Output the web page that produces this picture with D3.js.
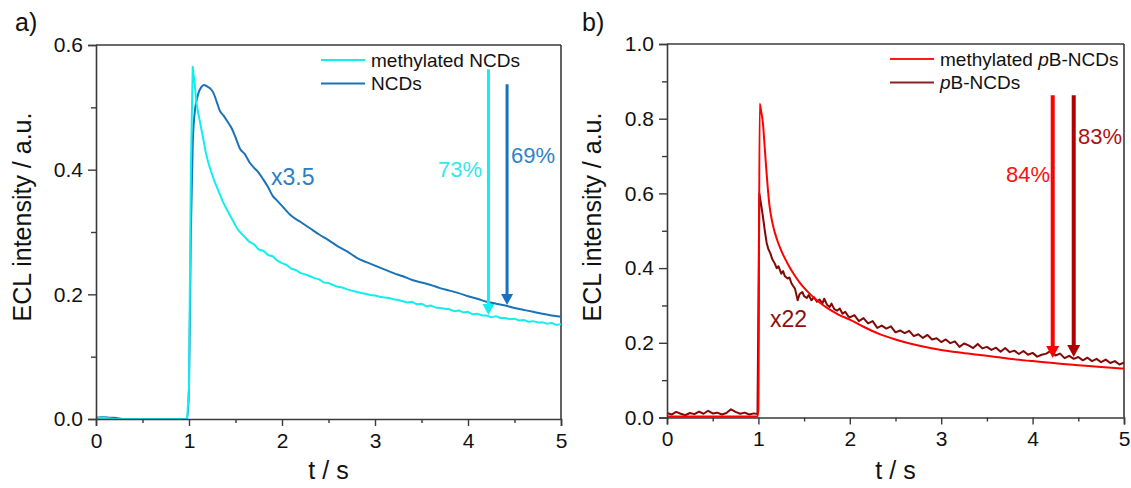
<!DOCTYPE html>
<html>
<head>
<meta charset="utf-8">
<script src="https://cdn.jsdelivr.net/npm/d3@7/dist/d3.min.js"></script>
<style>
  html, body { margin: 0; padding: 0; background: #ffffff; }
  svg { display: block; }
  text { font-family: "Liberation Sans", Arial, sans-serif; }
</style>
</head>
<body>
<svg id="chart" width="1131" height="488"></svg>
<script>
// ---------- DATA ----------
// Panel a) methylated NCDs (cyan)
const tMethylNCD = [0,0.05,0.1,0.15,0.2,0.3,0.5,0.7,0.9,0.98,1.0,1.02,1.04,1.06,1.08,1.10,1.12,1.15,1.18,1.21,1.24,1.27,1.30,1.33,1.36,1.40,1.44,1.48,1.52,1.56,1.60,1.65,1.70,1.75,1.80,1.85,1.90,1.95,2.00,
  2.05,2.10,2.15,2.20,2.25,2.30,2.35,2.40,2.45,2.50,2.55,2.60,2.65,2.70,2.75,2.80,2.85,2.90,2.95,3.00,
  3.05,3.10,3.15,3.20,3.25,3.30,3.35,3.40,3.45,3.50,3.55,3.60,3.65,3.70,3.75,3.80,3.85,3.90,3.95,4.00,
  4.05,4.10,4.15,4.20,4.25,4.30,4.35,4.40,4.45,4.50,4.55,4.60,4.65,4.70,4.75,4.80,4.85,4.90,4.95,5.00];
const methylNCD = [0.001,0.002,0.002,0.001,0.000,0.000,0.000,0.000,0.000,0.000,0.05,0.40,0.565,0.54,0.507,0.49,0.475,0.452,0.428,0.41,0.396,0.383,0.372,0.361,0.35,0.338,0.327,0.316,0.305,0.298,0.292,0.284,0.280,0.272,0.270,0.263,0.261,0.254,0.250,
  0.247,0.241,0.239,0.234,0.232,0.229,0.226,0.224,0.219,0.218,0.215,0.212,0.211,0.208,0.206,0.204,0.202,0.201,0.199,0.198,
  0.196,0.195,0.194,0.192,0.191,0.189,0.187,0.188,0.184,0.185,0.181,0.182,0.179,0.178,0.177,0.176,0.173,0.174,0.171,0.172,
  0.168,0.169,0.166,0.166,0.163,0.165,0.162,0.162,0.160,0.161,0.158,0.159,0.156,0.157,0.155,0.155,0.153,0.154,0.151,0.152];

// Panel a) NCDs (blue, x3.5)
const tNCD = [0,0.05,0.1,0.15,0.2,0.25,0.3,0.5,0.7,0.9,0.98,1.0,1.02,1.04,1.06,1.08,1.10,1.13,1.16,1.20,1.23,1.26,1.30,1.33,1.37,1.41,1.46,1.50,1.55,1.60,1.65,1.70,1.75,1.80,1.85,1.90,1.95,2.0,
  2.1,2.2,2.3,2.4,2.5,2.6,2.7,2.8,2.9,3.0,3.1,3.2,3.3,3.4,3.5,3.6,3.7,3.8,3.9,4.0,4.1,4.2,4.3,4.4,4.5,4.6,4.7,4.8,4.9,5.0];
const NCD = [0.002,0.003,0.003,0.002,0.002,0.001,0.000,0.000,0.000,0.000,0.000,0.05,0.30,0.44,0.49,0.51,0.522,0.532,0.536,0.533,0.53,0.524,0.508,0.495,0.487,0.478,0.466,0.452,0.433,0.425,0.412,0.403,0.395,0.384,0.372,0.358,0.350,0.342,
  0.326,0.316,0.306,0.296,0.287,0.277,0.269,0.259,0.252,0.246,0.240,0.234,0.229,0.223,0.219,0.215,0.210,0.206,0.202,0.197,0.193,0.188,0.185,0.182,0.178,0.175,0.172,0.169,0.166,0.164];

// Panel b) methylated pB-NCDs (red)
const tMethylPB = [0,0.5,0.99,1.0,1.014,1.03,1.05,1.07,1.09,1.12,1.15,1.18,1.21,1.25,1.29,1.34,1.39,1.45,1.50,1.58,1.67,1.76,1.88,2.0,2.15,2.32,2.5,2.75,3.0,3.2,3.4,3.6,3.8,4.0,4.13,4.3,4.5,4.75,5.0];
const methylPB = [0.003,0.003,0.003,0.02,0.84,0.82,0.787,0.72,0.653,0.57,0.525,0.495,0.472,0.447,0.426,0.403,0.383,0.362,0.347,0.327,0.308,0.292,0.275,0.262,0.243,0.224,0.209,0.193,0.181,0.174,0.168,0.162,0.156,0.151,0.148,0.144,0.140,0.135,0.131];

// Panel b) pB-NCDs (dark red, x22)
const tPB = [0,0.05,0.1,0.15,0.2,0.25,0.3,0.35,0.4,0.45,0.5,0.55,0.6,0.65,0.7,0.75,0.8,0.85,0.9,0.95,0.99,
  1.00,1.01,1.03,1.05,1.07,1.09,1.11,1.13,1.15,1.18,1.20,1.22,1.25,1.27,1.29,1.32,1.34,1.36,1.38,1.40,1.43,1.45,1.48,1.50,1.53,1.55,1.58,1.61,1.64,1.67,1.70,1.72,1.75,1.78,1.80,1.83,1.86,1.89,1.92,1.95,1.98,2.00,
  2.05,2.10,2.15,2.20,2.25,2.30,2.35,2.40,2.45,2.50,2.55,2.60,2.65,2.70,2.75,2.80,2.85,2.90,2.95,3.00,
  3.05,3.10,3.15,3.20,3.25,3.30,3.35,3.40,3.45,3.50,3.55,3.60,3.65,3.70,3.75,3.80,3.85,3.90,3.95,4.00,
  4.05,4.10,4.15,4.20,4.25,4.30,4.35,4.40,4.45,4.50,4.55,4.60,4.65,4.70,4.75,4.80,4.85,4.90,4.95,5.00];
const PB = [0.012,0.008,0.015,0.010,0.006,0.012,0.009,0.016,0.010,0.018,0.011,0.013,0.008,0.012,0.022,0.015,0.010,0.013,0.008,0.011,0.009,
  0.30,0.60,0.57,0.537,0.50,0.468,0.45,0.44,0.425,0.412,0.40,0.405,0.385,0.392,0.378,0.372,0.375,0.36,0.352,0.345,0.314,0.33,0.336,0.325,0.32,0.328,0.314,0.322,0.31,0.316,0.305,0.318,0.302,0.296,0.305,0.29,0.286,0.292,0.278,0.283,0.272,0.268,
  0.274,0.258,0.266,0.252,0.258,0.240,0.246,0.238,0.244,0.228,0.233,0.226,0.232,0.218,0.223,0.213,0.221,0.209,0.212,0.202,
  0.209,0.199,0.204,0.189,0.198,0.193,0.186,0.197,0.185,0.189,0.181,0.187,0.176,0.186,0.175,0.179,0.170,0.178,0.168,0.173,
  0.163,0.168,0.171,0.179,0.166,0.171,0.159,0.165,0.157,0.162,0.153,0.160,0.151,0.157,0.148,0.155,0.146,0.151,0.142,0.147];

// Tick labels
const xTicks = [0,1,2,3,4,5];
const xMinor = [0.5,1.5,2.5,3.5,4.5];
const yTicksA = [0.0,0.2,0.4,0.6];
const yMinorA = [0.1,0.3,0.5];
const yTicksB = [0.0,0.2,0.4,0.6,0.8,1.0];
const yMinorB = [0.1,0.3,0.5,0.7,0.9];

// Annotations (arrow x, arrow top y, arrow tip y, label)
const arrowsA = [
  {x:4.22, y1:0.561, y2:0.167, label:"73%", color:"#14EEEE"},
  {x:4.42, y1:0.537, y2:0.183, label:"69%", color:"#1672BE"}
];
const arrowsB = [
  {x:4.22, y1:0.863, y2:0.159, label:"84%", color:"#FF0000"},
  {x:4.45, y1:0.863, y2:0.162, label:"83%", color:"#B00000"}
];

// ---------- DRAWING ----------
const svg = d3.select("#chart");
const axisColor = "#3a3a3a";

function panel(cfg) {
  const x = d3.scaleLinear().domain([0,5]).range(cfg.xr);
  const y = d3.scaleLinear().domain(cfg.yd).range(cfg.yr);
  const g = svg.append("g");

  // frame top/right
  g.append("line").attr("x1", x(0)).attr("x2", x(5)).attr("y1", y(cfg.yd[1])).attr("y2", y(cfg.yd[1]))
    .attr("stroke", axisColor).attr("stroke-width", 1.6);
  g.append("line").attr("x1", x(5)).attr("x2", x(5)).attr("y1", y(0)).attr("y2", y(cfg.yd[1]))
    .attr("stroke", axisColor).attr("stroke-width", 1.6);

  // series
  cfg.series.forEach(s => {
    const pts = s.t.map((tv,i) => [tv, s.v[i]]);
    g.append("path").datum(pts)
      .attr("fill","none").attr("stroke", s.color).attr("stroke-width", s.w)
      .attr("stroke-linejoin","round")
      .attr("d", d3.line().x(d => x(d[0])).y(d => y(d[1])).curve(s.curve));
  });

  // axes
  const xAxis = g.append("g").attr("transform", `translate(0,${y(0)})`)
    .call(d3.axisBottom(x).tickValues(xTicks).tickFormat(d3.format("d")).tickSize(7).tickPadding(7));
  g.append("g").attr("transform", `translate(0,${y(0)})`)
    .call(d3.axisBottom(x).tickValues(xMinor).tickFormat("").tickSize(4))
    .call(a => a.select(".domain").remove());
  const yAxis = g.append("g").attr("transform", `translate(${x(0)},0)`)
    .call(d3.axisLeft(y).tickValues(cfg.yt).tickFormat(d3.format(".1f")).tickSize(8).tickPadding(5));
  g.append("g").attr("transform", `translate(${x(0)},0)`)
    .call(d3.axisLeft(y).tickValues(cfg.ym).tickFormat("").tickSize(5))
    .call(a => a.select(".domain").remove());
  g.selectAll(".domain").attr("stroke", axisColor).attr("stroke-width", 1.6);
  g.selectAll(".tick line").attr("stroke", axisColor).attr("stroke-width", 1.4);
  g.selectAll(".tick text").attr("fill", "#111").style("font-size", "21px")
    .style("font-family", '"Liberation Sans", Arial, sans-serif');
  xAxis.selectAll(".tick text").attr("dy", "0.71em");

  // axis titles
  g.append("text").attr("x", (x(0)+x(5))/2).attr("y", 479).attr("text-anchor","middle")
    .style("font-size","25px").attr("fill","#111").text("t / s");
  g.append("text").attr("transform", `translate(${cfg.ytx},217) rotate(-90)`).attr("text-anchor","middle")
    .style("font-size","25px").attr("fill","#111").text("ECL intensity / a.u.");
  g.append("text").attr("x", cfg.lx).attr("y", 31).style("font-size","25px").attr("fill","#111").text(cfg.letter);

  // legend
  cfg.legend.forEach((L, i) => {
    const ly = cfg.legY[i];
    g.append("line").attr("x1", cfg.legX).attr("x2", cfg.legX + 44).attr("y1", ly).attr("y2", ly)
      .attr("stroke", L.color).attr("stroke-width", 2);
    const tx = g.append("text").attr("x", cfg.legX + 50).attr("y", ly + 6.5).style("font-size","19px").attr("fill","#111");
    L.parts.forEach(p => tx.append("tspan").style("font-style", p.it ? "italic" : "normal").text(p.s));
  });

  // arrows
  cfg.arrows.forEach((A, i) => {
    const ax = x(A.x), top = y(A.y1), tip = y(A.y2);
    const hl = cfg.head[1], hw = cfg.head[0];
    g.append("line").attr("x1", ax).attr("x2", ax).attr("y1", top).attr("y2", tip - hl + 1)
      .attr("stroke", A.color).attr("stroke-width", cfg.aw);
    g.append("path").attr("d", `M${ax-hw/2},${tip-hl} L${ax+hw/2},${tip-hl} L${ax},${tip} Z`).attr("fill", A.color);
    const lab = cfg.labels[i];
    g.append("text").attr("x", lab.x).attr("y", lab.y).attr("text-anchor", lab.anchor)
      .style("font-size","22px").attr("fill", lab.color || A.color).text(A.label);
  });

  // multiplier note
  g.append("text").attr("x", cfg.note.x).attr("y", cfg.note.y).style("font-size","23px")
    .attr("fill", cfg.note.color).text(cfg.note.text);
}

panel({
  xr:[96,561], yd:[0,0.6], yr:[419,45], yt:yTicksA, ym:yMinorA, ytx:31, lx:15, letter:"a)",
  series:[
    {t:tNCD, v:NCD, color:"#1A73B8", w:2, curve:d3.curveMonotoneX},
    {t:tMethylNCD, v:methylNCD, color:"#12EEEE", w:2, curve:d3.curveLinear}
  ],
  legend:[
    {color:"#12EEEE", parts:[{s:"methylated NCDs"}]},
    {color:"#1A73B8", parts:[{s:"NCDs"}]}
  ],
  legX:321, legY:[60,83.5],
  arrows:arrowsA, aw:3, head:[12,11],
  labels:[{x:482, y:177, anchor:"end", color:"#30E8E8"},{x:511, y:163, anchor:"start", color:"#2A84C8"}],
  note:{x:271, y:185, text:"x3.5", color:"#2A80C4"}
});

panel({
  xr:[667,1124], yd:[0,1.0], yr:[417.5,44], yt:yTicksB, ym:yMinorB, ytx:601, lx:582, letter:"b)",
  series:[
    {t:tPB, v:PB, color:"#820808", w:2, curve:d3.curveLinear},
    {t:tMethylPB, v:methylPB, color:"#FF0000", w:2, curve:d3.curveMonotoneX}
  ],
  legend:[
    {color:"#FF1A1A", parts:[{s:"methylated "},{s:"p", it:true},{s:"B-NCDs"}]},
    {color:"#8B2020", parts:[{s:"p", it:true},{s:"B-NCDs"}]}
  ],
  legX:890, legY:[59,82.5],
  arrows:arrowsB, aw:4, head:[13,12],
  labels:[{x:1050, y:182, anchor:"end", color:"#FF1010"},{x:1078, y:144, anchor:"start", color:"#B01010"}],
  note:{x:770, y:327, text:"x22", color:"#8B1010"}
});
</script>
</body>
</html>
